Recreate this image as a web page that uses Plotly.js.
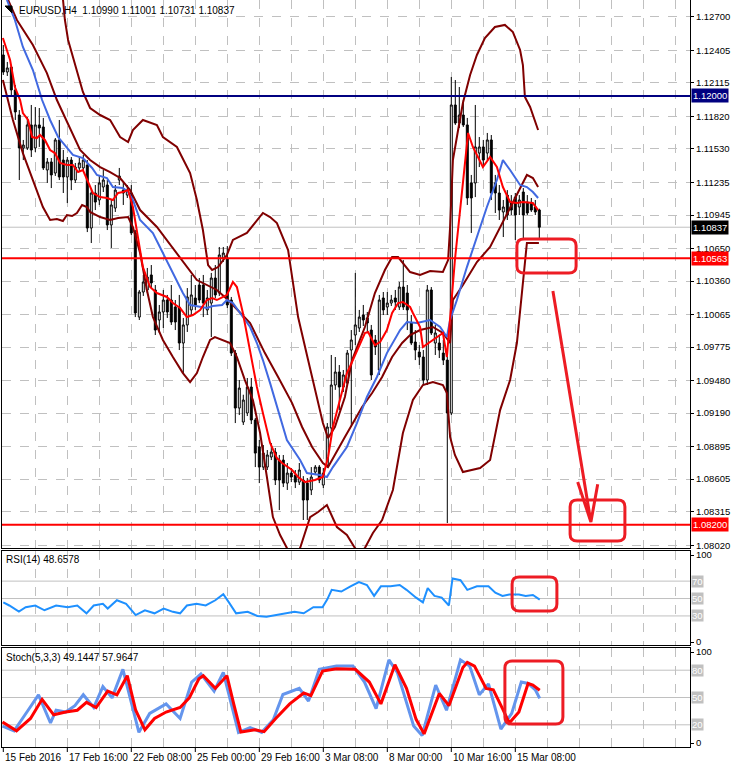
<!DOCTYPE html>
<html><head><meta charset="utf-8">
<script src="https://cdn.plot.ly/plotly-3.0.1.min.js"></script>
<style>html,body{margin:0;padding:0;background:#fff;} #chart{width:731px;height:768px;}</style>
</head><body><div id="chart"></div>
<script>
// ---------- OHLC (EURUSD H4, bars 0..134) ----------
const open = [1.12363,1.12212,1.12256,1.12053,1.11831,1.11539,1.11539,1.11743,1.11539,1.11743,
1.11725,1.11344,1.11415,1.11317,1.11610,1.11432,1.11282,1.11432,1.11255,1.11362,
1.11362,1.11388,1.10830,1.11140,1.11078,1.11193,1.11211,1.10857,1.11007,1.11255,
1.11166,1.11122,1.11140,1.10786,1.10041,1.10263,1.10281,1.10414,1.10281,1.10015,
1.10086,1.10192,1.10192,1.10130,1.10130,1.09811,1.09971,1.10104,1.10210,1.10325,
1.10325,1.10104,1.10165,1.10387,1.10254,1.10564,1.10564,1.10192,1.09722,1.09235,
1.09111,1.09191,1.09421,1.09129,1.08890,1.08712,1.08712,1.08801,1.08845,1.08774,
1.08774,1.08570,1.08659,1.08641,1.08579,1.08597,1.08570,1.08509,1.08668,1.08712,
1.08553,1.08730,1.09058,1.09439,1.09554,1.09421,1.09456,1.09749,1.09882,1.09944,
1.10059,1.10033,1.09926,1.09838,1.09572,1.10210,1.10130,1.10165,1.10210,1.10130,
1.10307,1.10254,1.09988,1.09820,1.09731,1.09687,1.09483,1.10281,1.09811,1.09811,
1.09722,1.09660,1.09191,1.11920,1.11760,1.11831,1.11743,1.11229,1.11229,1.11494,
1.11548,1.11494,1.11610,1.11229,1.11140,1.10972,1.11122,1.11051,1.11104,1.11016,
1.11149,1.11060,1.11051,1.11016,1.10990];
const high = [1.12451,1.12301,1.12274,1.12097,1.11875,1.11610,1.11813,1.11920,1.11902,1.11893,
1.11805,1.11450,1.11450,1.11627,1.11787,1.11521,1.11459,1.11459,1.11406,1.11459,
1.11477,1.11432,1.11184,1.11211,1.11300,1.11344,1.11255,1.11078,1.11211,1.11362,
1.11237,1.11211,1.11211,1.10812,1.10281,1.10414,1.10476,1.10502,1.10325,1.10148,
1.10281,1.10237,1.10325,1.10192,1.10237,1.10033,1.10298,1.10414,1.10325,1.10387,
1.10414,1.10281,1.10432,1.10502,1.10662,1.10662,1.10670,1.10219,1.09749,1.09483,
1.09353,1.09501,1.09501,1.09147,1.08952,1.08907,1.08863,1.08925,1.08881,1.08819,
1.08819,1.08748,1.08703,1.08686,1.08748,1.08632,1.08615,1.08712,1.08730,1.08730,
1.08703,1.09102,1.09705,1.09687,1.09616,1.09572,1.09749,1.09926,1.10432,1.10104,
1.10148,1.10086,1.09971,1.09882,1.10237,1.10263,1.10263,1.10237,1.10281,1.10352,
1.10546,1.10325,1.10059,1.09926,1.09793,1.09749,1.10325,1.10307,1.09971,1.09882,
1.09838,1.09749,1.12168,1.12141,1.12079,1.11964,1.11805,1.11300,1.11920,1.11636,
1.11610,1.11672,1.11654,1.11300,1.11211,1.11078,1.11166,1.11122,1.11140,1.11122,
1.11184,1.11122,1.11096,1.11078,1.11001];
const low = [1.12186,1.12177,1.12008,1.11787,1.11255,1.11432,1.11521,1.11459,1.11503,1.11548,
1.11344,1.11229,1.11184,1.11291,1.11255,1.11140,1.11051,1.11166,1.11229,1.11326,
1.11344,1.10794,1.10697,1.10989,1.11034,1.11149,1.10812,1.10653,1.10972,1.11211,
1.11034,1.11096,1.10768,1.10041,1.10015,1.10228,1.10254,1.10298,1.09882,1.09900,
1.09944,1.10033,1.09971,1.09926,1.09749,1.09545,1.09909,1.10059,1.10104,1.10165,
1.10041,1.10059,1.09864,1.10210,1.10228,1.10529,1.10121,1.09696,1.09102,1.09173,
1.09085,1.09164,1.09093,1.08712,1.08570,1.08686,1.08686,1.08774,1.08553,1.08331,
1.08535,1.08509,1.08579,1.08526,1.08553,1.08243,1.08243,1.08464,1.08641,1.08570,
1.08526,1.08703,1.09022,1.09396,1.09217,1.09377,1.09430,1.09067,1.09793,1.09909,
1.09962,1.09909,1.09483,1.09705,1.09528,1.10059,1.10059,1.10139,1.10104,1.10104,
1.10104,1.09926,1.09793,1.09660,1.09616,1.09439,1.09439,1.09882,1.09705,1.09678,
1.09616,1.08216,1.09173,1.11743,1.11716,1.11725,1.11034,1.10786,1.11104,1.11370,
1.11388,1.11432,1.11078,1.10963,1.10901,1.10750,1.10901,1.10945,1.10724,1.10945,
1.10724,1.10945,1.10972,1.10945,1.10731];
const close = [1.12212,1.12248,1.12053,1.11858,1.11539,1.11565,1.11743,1.11521,1.11743,1.11716,
1.11362,1.11415,1.11300,1.11610,1.11282,1.11282,1.11432,1.11255,1.11370,1.11406,
1.11432,1.10830,1.11140,1.11060,1.11229,1.11255,1.10857,1.11034,1.11166,1.11291,
1.11140,1.11166,1.10786,1.10077,1.10263,1.10352,1.10396,1.10343,1.09926,1.10086,
1.10192,1.10086,1.09997,1.09997,1.09811,1.09971,1.10219,1.10237,1.10148,1.10192,
1.10165,1.10210,1.10387,1.10237,1.10591,1.10608,1.10148,1.09722,1.09235,1.09412,
1.09306,1.09421,1.09129,1.08836,1.08712,1.08836,1.08819,1.08845,1.08597,1.08597,
1.08570,1.08659,1.08624,1.08579,1.08686,1.08420,1.08420,1.08624,1.08712,1.08597,
1.08659,1.09067,1.09439,1.09554,1.09421,1.09528,1.09722,1.09838,1.09971,1.10041,
1.10015,1.09988,1.09528,1.09776,1.10192,1.10104,1.10165,1.10192,1.10174,1.10307,
1.10130,1.10104,1.09811,1.09749,1.09687,1.09483,1.10281,1.09900,1.09900,1.09749,
1.09660,1.09191,1.11920,1.11760,1.11831,1.11743,1.11096,1.11096,1.11548,1.11548,
1.11432,1.11610,1.11140,1.11140,1.10989,1.11016,1.10945,1.10989,1.10945,1.11078,
1.10945,1.10963,1.10989,1.10972,1.10837];

// ---------- indicator lines (bar position, value) ----------
const fastMaX = [-0.1,1.7,2.9,4.2,4.9,6.2,7.2,8.4,9.2,10.4,11.7,12.9,14.2,15.9,17.4,18.7,19.9,21.2,22.4,24.2,25.9,27.4,28.7,29.9,31.2,32.4,33.4,34.9,36.7,38.4,40.9,42.4,44.2,45.9,47.4,49.2,50.9,52.2,53.4,54.7,55.9,57.4,58.4,59.9,61.7,63.4,64.9,66.7,68.4,69.7,72.2,73.7,75.4,77.9,79.9,81.2,82.4,84.2,85.9,87.4,89.2,90.4,91.2,92.9,94.2,95.9,97.2,98.7,99.9,101.7,102.4,104.2,104.9,107.4,109.9,110.9,111.7,112.9,114.2,115.4,116.2,117.4,119.9,121.7,123.4,124.9,126.7,128.4,129.9,132.4,133.7];
const fastMaY = [1.12513,1.12318,1.12079,1.11964,1.11849,1.11787,1.11636,1.11627,1.11654,1.11610,1.11521,1.11494,1.11406,1.11388,1.11388,1.11326,1.11344,1.11229,1.11140,1.11104,1.11096,1.11078,1.11140,1.11149,1.11166,1.11016,1.10812,1.10484,1.10307,1.10254,1.10219,1.10165,1.10121,1.10041,1.10059,1.10104,1.10192,1.10210,1.10192,1.10219,1.10237,1.10352,1.10307,1.10077,1.09749,1.09421,1.09191,1.08925,1.08792,1.08748,1.08686,1.08624,1.08579,1.08597,1.08624,1.08801,1.09067,1.09306,1.09545,1.09660,1.09811,1.09900,1.09909,1.09793,1.09820,1.09926,1.10077,1.10165,1.10174,1.10130,1.10077,1.09953,1.09776,1.09838,1.09900,1.09687,1.10041,1.10546,1.10989,1.11432,1.11672,1.11548,1.11370,1.11459,1.11370,1.11193,1.11060,1.11051,1.11060,1.11051,1.10989];

const slowMaX = [0.9,2.9,4.9,7.4,9.7,11.7,13.7,15.9,17.4,19.9,22.2,23.4,25.9,27.4,29.9,31.2,32.4,34.2,37.4,39.9,42.4,44.9,46.7,48.4,50.9,52.4,54.7,55.9,57.4,59.2,61.7,63.4,64.9,66.7,68.4,70.9,74.2,75.9,79.2,80.9,82.4,85.9,88.4,90.9,93.4,95.9,99.2,100.9,103.4,106.7,109.2,110.9,111.7,113.4,115.9,118.4,120.9,123.4,124.9,126.7,129.2,130.9,132.4,133.7];
const slowMaY = [1.12850,1.12673,1.12434,1.12230,1.11964,1.11787,1.11636,1.11539,1.11477,1.11450,1.11362,1.11300,1.11273,1.11193,1.11184,1.11149,1.11078,1.10901,1.10786,1.10608,1.10432,1.10254,1.10148,1.10139,1.10121,1.10139,1.10148,1.10192,1.10165,1.10077,1.09953,1.09811,1.09660,1.09456,1.09244,1.08952,1.08774,1.08659,1.08641,1.08624,1.08712,1.08890,1.09102,1.09333,1.09510,1.09722,1.09926,1.09997,1.09988,1.10015,1.09953,1.09864,1.10015,1.10192,1.10484,1.10750,1.11016,1.11255,1.11432,1.11344,1.11211,1.11193,1.11149,1.11096];

const midBandX = [-0.1,3.4,7.4,10.9,13.4,15.9,19.2,21.7,24.2,26.7,29.2,31.7,34.2,38.4,43.4,48.4,53.4,56.2,61.7,65.4,68.7,72.2,74.7,77.2,79.9,81.2,85.4,89.7,92.2,94.7,97.2,99.7,101.7,104.2,107.4,109.9,111.7,112.4,114.9,118.4,121.7,124.2,126.7,129.2,130.9,132.4,133.7];
const midBandY = [1.12956,1.12673,1.12451,1.12203,1.11964,1.11769,1.11521,1.11432,1.11370,1.11326,1.11273,1.11166,1.10989,1.10839,1.10608,1.10369,1.10281,1.10192,1.09988,1.09722,1.09510,1.09279,1.09067,1.08890,1.08748,1.08712,1.08978,1.09244,1.09368,1.09510,1.09687,1.09811,1.09882,1.09926,1.09953,1.09900,1.09811,1.10192,1.10325,1.10529,1.10662,1.10839,1.11016,1.11193,1.11300,1.11273,1.11193];

const upperBandX = [14.7,15.4,16.2,18.4,19.9,21.7,24.2,26.7,29.2,31.2,32.4,34.9,38.4,39.9,43.4,46.7,48.4,49.9,51.2,52.2,53.7,55.9,57.4,60.9,63.4,64.9,66.7,68.4,71.2,73.7,76.2,77.9,79.9,81.2,82.9,85.4,87.2,90.4,92.9,95.4,97.2,98.7,101.7,104.2,106.7,109.9,111.2,111.7,112.4,113.7,114.9,116.7,118.4,120.4,122.9,125.4,127.4,129.2,129.9,130.4,131.7,133.7];
const upperBandY = [1.12939,1.12673,1.12496,1.12230,1.12035,1.11893,1.11831,1.11787,1.11636,1.11592,1.11698,1.11787,1.11743,1.11636,1.11548,1.11317,1.11078,1.10812,1.10502,1.10458,1.10484,1.10591,1.10724,1.10786,1.10901,1.10963,1.10927,1.10874,1.10635,1.10041,1.09660,1.09395,1.09102,1.08969,1.09067,1.09333,1.09660,1.09953,1.10254,1.10458,1.10573,1.10573,1.10440,1.10414,1.10449,1.10440,1.10546,1.10839,1.11432,1.11698,1.11937,1.12186,1.12363,1.12513,1.12611,1.12629,1.12566,1.12407,1.12274,1.11991,1.11902,1.11698];

const lowerBandX = [-0.1,2.4,4.9,7.4,9.9,11.7,13.4,14.9,15.9,17.2,18.4,19.7,20.9,21.7,24.2,26.7,28.7,31.2,32.4,34.2,35.9,37.4,39.9,42.4,44.9,46.7,48.4,49.9,51.7,52.9,54.9,56.7,58.4,60.4,62.4,64.2,65.9,67.4,69.2,70.9,72.4,74.2,76.7,78.7,80.9,82.2,83.4,85.9,87.9,89.2,90.4,92.4,94.7,97.4,99.9,102.4,104.9,107.4,109.9,110.9,111.7,112.9,114.9,119.2,121.7,124.2,126.7,128.4,129.7,130.4,130.9,132.4,133.9];
const lowerBandY = [1.12141,1.11787,1.11494,1.11255,1.11016,1.10901,1.10910,1.10892,1.10945,1.10936,1.10963,1.11034,1.11016,1.10972,1.10927,1.10901,1.10919,1.10927,1.10838,1.10608,1.10281,1.10041,1.09838,1.09687,1.09545,1.09465,1.09545,1.09687,1.09838,1.09864,1.09838,1.09811,1.09687,1.09483,1.09306,1.09014,1.08624,1.08269,1.08110,1.07995,1.07844,1.07995,1.08269,1.08314,1.08376,1.08269,1.08181,1.08110,1.07995,1.07950,1.07995,1.08128,1.08243,1.08509,1.09014,1.09306,1.09439,1.09465,1.09439,1.09368,1.08978,1.08819,1.08668,1.08703,1.08774,1.09217,1.09483,1.09811,1.10254,1.10546,1.10697,1.10697,1.10697];

// RSI(14)
const rsiX = [0,1.5,3.9,5.6,8,10.3,13.2,16.1,18.5,20.8,22.6,24.9,26.1,28.4,30.7,33.1,35.4,37.8,40.1,42.4,44.2,45.9,48.3,50.6,53,55,56.4,58.2,61.1,63.5,65.8,68.1,70.5,72.8,75.1,77.5,79.8,81,82.1,84.5,86.8,88.9,90.9,92.7,94.4,96.8,99.1,100.8,103.2,104.9,106.1,107.8,109.6,111.4,112.3,114.3,116,118.4,121.3,123,124.8,126.5,128.9,130.6,132.4,134.1];
const rsiY = [45.6,42,35,40,42,36.5,42,40,42,33,42,44,38.5,48,44,31,36.5,33,38.5,34.7,33,42,44,42,48,55,45.6,33,34.7,30,29,31,33,34.7,33,40,40,49,60,58,64,69,65.5,53,64,64,65.5,60,51,45.6,62,53,51,42,73,71,60,64,64,56.7,53,54.7,54.7,53,54,48.7];

// Stochastic(5,3,3): main and signal
const stochMainX = [-0.2,2.7,6.2,8.8,11.8,13.2,15.6,17.9,20,22.6,24.9,27.2,29.9,33.9,36.6,40.7,44.2,47.1,49.4,52.7,55,58.8,61.7,64.6,67.5,69.9,74,76.3,79,83.3,87.4,90.3,93.2,96.4,98.5,102.6,104.7,108.1,110.8,114.3,116.6,119,121.3,124.4,127.1,129.5,131.2,133,134.1];
const stochMainY = [18.6,13.4,36,52.8,22,36,34,41,53,39,62,49.6,81,11.7,32.5,43,27,67,76,57,77.6,11.7,17,11.7,25.6,53.3,60,46,81,84.5,84.5,67,37.7,91.4,77.6,18.6,8.2,63.7,36,91.4,84.5,53,65,15.3,32.5,67,65.4,58.5,49.1];
const stochSigX = [-0.2,3.3,6.8,9.7,12.6,15.6,18.5,20.8,23.2,26.1,28.4,31,33.1,35.4,37.8,40.7,44.2,46.5,48.9,50,53,55.9,57.6,59.4,62.9,65.2,68.1,71.6,75.1,76.9,79.8,83.3,88,91.5,94.4,97.9,100.8,103.2,105.2,109,111.4,114.9,116,117.8,120.7,122.5,124.8,126.5,128.9,131.2,132.4,134.1];
const stochSigY = [23,13.4,27,48,31,34,36,44.6,39,57,53,74,36,14.5,27,34,39,49.6,70.6,74,60,74,43,12,14.5,12.4,27,43,55,52,79,81.7,81,67,43,86,60,26,10,54.5,41,83,88.7,84.5,60,58.5,37.7,22,34,65.4,63.7,58];

// axis ticks and labels
const priceTicks = [1.12700,1.12405,1.12115,1.11820,1.11530,1.11235,1.10945,1.10650,1.10360,1.10065,1.09775,1.09480,1.09190,1.08895,1.08605,1.08315,1.08020];
const timeLabelBars = [0,16,32,48,64,80,96,112,128];
const timeLabels = ['15 Feb 2016','17 Feb 16:00','22 Feb 08:00','25 Feb 00:00','29 Feb 16:00','3 Mar 08:00','8 Mar 00:00','10 Mar 16:00','15 Mar 08:00'];
const gridBars = [8,16,24,32,40,48,56,64,72,80,88,96,104,112,120,128,136,144,152,160,168];
const levels = {resistance:1.12000, bid:1.10837, support:1.10563, target:1.08200};

// ---------- build ----------
const FONT = 'Liberation Sans, Arial, sans-serif';
const W = 731, H = 768;
const px = v => v / W, py = v => 1 - v / H;
const barX = open.map((_, k) => k);
const RED = '#ed1c24';
const AXF = 9.5;

const traces = [
  {type:'candlestick', x:barX, open:open, high:high, low:low, close:close, xaxis:'x', yaxis:'y',
   increasing:{line:{color:'#000',width:1}, fillcolor:'#ffffff'},
   decreasing:{line:{color:'#000',width:1}, fillcolor:'#000000'},
   whiskerwidth:0, hoverinfo:'skip', showlegend:false},
  {type:'scatter', mode:'lines', x:upperBandX, y:upperBandY, line:{color:'#800000',width:2}, xaxis:'x', yaxis:'y', hoverinfo:'skip', showlegend:false},
  {type:'scatter', mode:'lines', x:midBandX, y:midBandY, line:{color:'#800000',width:2}, xaxis:'x', yaxis:'y', hoverinfo:'skip', showlegend:false},
  {type:'scatter', mode:'lines', x:lowerBandX, y:lowerBandY, line:{color:'#800000',width:2}, xaxis:'x', yaxis:'y', hoverinfo:'skip', showlegend:false},
  {type:'scatter', mode:'lines', x:slowMaX, y:slowMaY, line:{color:'#4169e1',width:2}, xaxis:'x', yaxis:'y', hoverinfo:'skip', showlegend:false},
  {type:'scatter', mode:'lines', x:fastMaX, y:fastMaY, line:{color:'#ff0000',width:2}, xaxis:'x', yaxis:'y', hoverinfo:'skip', showlegend:false},
  {type:'scatter', mode:'lines', x:rsiX, y:rsiY, line:{color:'#1e90ff',width:2}, xaxis:'x2', yaxis:'y2', hoverinfo:'skip', showlegend:false},
  {type:'scatter', mode:'lines', x:stochMainX, y:stochMainY, line:{color:'#6495ed',width:3}, xaxis:'x3', yaxis:'y3', hoverinfo:'skip', showlegend:false},
  {type:'scatter', mode:'lines', x:stochSigX, y:stochSigY, line:{color:'#ff0000',width:3}, xaxis:'x3', yaxis:'y3', hoverinfo:'skip', showlegend:false}
];

const xBase = {domain:[px(2), px(690)], range:[-0.325, 171.675], tickmode:'array', tickvals:gridBars,
  showticklabels:false, ticks:'', showgrid:true, gridcolor:'#c0c0c0', griddash:'dash', gridwidth:1,
  zeroline:false, showline:true, linecolor:'#000', linewidth:1, mirror:true, fixedrange:true,
  rangeslider:{visible:false}};
const yBase = {side:'right', ticks:'outside', ticklen:3, tickcolor:'#000', tickfont:{family:FONT,size:AXF,color:'#000'},
  zeroline:false, showline:true, linecolor:'#000', linewidth:1, mirror:true, fixedrange:true};

function rr(x0,x1,y0,y1,rx,ry){
  return `M ${x0+rx},${y1} L ${x1-rx},${y1} Q ${x1},${y1} ${x1},${y1-ry} L ${x1},${y0+ry} Q ${x1},${y0} ${x1-rx},${y0} L ${x0+rx},${y0} Q ${x0},${y0} ${x0},${y0+ry} L ${x0},${y1-ry} Q ${x0},${y1} ${x0+rx},${y1} Z`;
}

const shapes = [
  {type:'line', xref:'x domain', yref:'y', x0:0, x1:1, y0:levels.bid, y1:levels.bid, line:{color:'#c0c0c0',width:1}, layer:'below'},
  {type:'line', xref:'x domain', yref:'y', x0:0, x1:1, y0:levels.resistance, y1:levels.resistance, line:{color:'#000080',width:2}},
  {type:'line', xref:'x domain', yref:'y', x0:0, x1:1, y0:levels.support, y1:levels.support, line:{color:'#ff0000',width:2}},
  {type:'line', xref:'x domain', yref:'y', x0:0, x1:1, y0:levels.target, y1:levels.target, line:{color:'#ff0000',width:2}},
  // RSI / Stochastic levels
  ...[70,50,30].map(v => ({type:'line', xref:'x2 domain', yref:'y2', x0:0, x1:1, y0:v, y1:v, line:{color:'#c0c0c0',width:1}, layer:'below'})),
  ...[80,50,20].map(v => ({type:'line', xref:'x3 domain', yref:'y3', x0:0, x1:1, y0:v, y1:v, line:{color:'#c0c0c0',width:1}, layer:'below'})),
  // hand-drawn marks
  {type:'path', xref:'x', yref:'y', path:rr(128.4,143.2,1.10431,1.10732,1.8,0.0006), line:{color:RED,width:3}},
  {type:'path', xref:'x', yref:'y', path:rr(141.7,155.4,1.08057,1.08420,1.8,0.0006), line:{color:RED,width:3}},
  {type:'path', xref:'x', yref:'y', path:'M 137.4,1.10272 L 146.9,1.08225 M 143.6,1.08580 L 146.9,1.08225 L 148.6,1.08560', line:{color:RED,width:3}},
  {type:'path', xref:'x2', yref:'y2', path:rr(127.2,138.4,35.6,74.7,1.8,8), line:{color:RED,width:3}},
  {type:'path', xref:'x3', yref:'y3', path:rr(125.4,139.9,20.9,90.1,1.8,7.7), line:{color:RED,width:3}},
  // time ticks
  ...timeLabelBars.map(b => ({type:'line', xref:'x3', yref:'paper', x0:b, x1:b, y0:py(747), y1:py(752), line:{color:'#000',width:1}})),
  // symbol icon next to the title
  {type:'path', xref:'paper', yref:'paper', path:`M ${px(5)},${py(6)} L ${px(12)},${py(6)} L ${px(12)},${py(13)} Z`, fillcolor:'#000', line:{color:'#000',width:1}}
];

const tag = (y, text, bg) => ({xref:'paper', yref:'y', x:px(691), y:y, xanchor:'left', yanchor:'middle', text:text,
  showarrow:false, bgcolor:bg, font:{family:FONT,size:AXF,color:'#fff'}, borderpad:1});
const lvlTag = (yref, y, text) => ({xref:'paper', yref:yref, x:px(691), y:y, xanchor:'left', yanchor:'middle', text:text,
  showarrow:false, bgcolor:'#c0c0c0', font:{family:FONT,size:AXF,color:'#ffffff'}, borderpad:0});

const annotations = [
  {xref:'paper', yref:'paper', x:px(17), y:py(10), xanchor:'left', yanchor:'middle', showarrow:false,
   text:'EURUSD,H4  1.10990 1.11001 1.10731 1.10837', font:{family:FONT,size:10,color:'#000'}},
  {xref:'paper', yref:'paper', x:px(4), y:py(559), xanchor:'left', yanchor:'middle', showarrow:false,
   text:'RSI(14) 48.6578', font:{family:FONT,size:10,color:'#000'}},
  {xref:'paper', yref:'paper', x:px(4), y:py(657), xanchor:'left', yanchor:'middle', showarrow:false,
   text:'Stoch(5,3,3) 49.1447 57.9647', font:{family:FONT,size:10,color:'#000'}},
  tag(levels.resistance, levels.resistance.toFixed(5), '#000080'),
  tag(levels.bid, levels.bid.toFixed(5), '#000000'),
  tag(levels.support, levels.support.toFixed(5), '#ff0000'),
  tag(levels.target, levels.target.toFixed(5), '#ff0000'),
  lvlTag('y2',70,'70'), lvlTag('y2',50,'50'), lvlTag('y2',30,'30'),
  lvlTag('y3',80,'80'), lvlTag('y3',50,'50'), lvlTag('y3',20,'20'),
  ...timeLabelBars.map((b,k) => ({xref:'x3', yref:'paper', x:b-0.2, y:py(757), xanchor:'left', yanchor:'middle',
    showarrow:false, text:timeLabels[k], font:{family:FONT,size:10,color:'#000'}}))
];

const layout = {
  width:W, height:H, margin:{l:0,r:0,t:0,b:0}, paper_bgcolor:'#fff', plot_bgcolor:'#fff', showlegend:false,
  font:{family:FONT,size:10,color:'#000'},
  xaxis: Object.assign({}, xBase, {anchor:'y'}),
  xaxis2: Object.assign({}, xBase, {anchor:'y2', matches:'x'}),
  xaxis3: Object.assign({}, xBase, {anchor:'y3', matches:'x'}),
  yaxis: Object.assign({}, yBase, {domain:[py(548), 1], range:[1.07995, 1.1285], tickmode:'array',
    tickvals:priceTicks, ticktext:priceTicks.map(v => v.toFixed(5)), showgrid:true, gridcolor:'#c0c0c0', griddash:'dash', anchor:'x'}),
  yaxis2: Object.assign({}, yBase, {domain:[py(645), py(551)], range:[-3.4, 104.6], tickmode:'array',
    tickvals:[0,100], ticktext:['0','100'], showgrid:false, anchor:'x2'}),
  yaxis3: Object.assign({}, yBase, {domain:[py(747), py(648)], range:[-4.4, 104.4], tickmode:'array',
    tickvals:[0,100], ticktext:['0','100'], showgrid:false, anchor:'x3'}),
  shapes:shapes, annotations:annotations
};

Plotly.newPlot('chart', traces, layout, {staticPlot:true, displayModeBar:false});
</script></body></html>
